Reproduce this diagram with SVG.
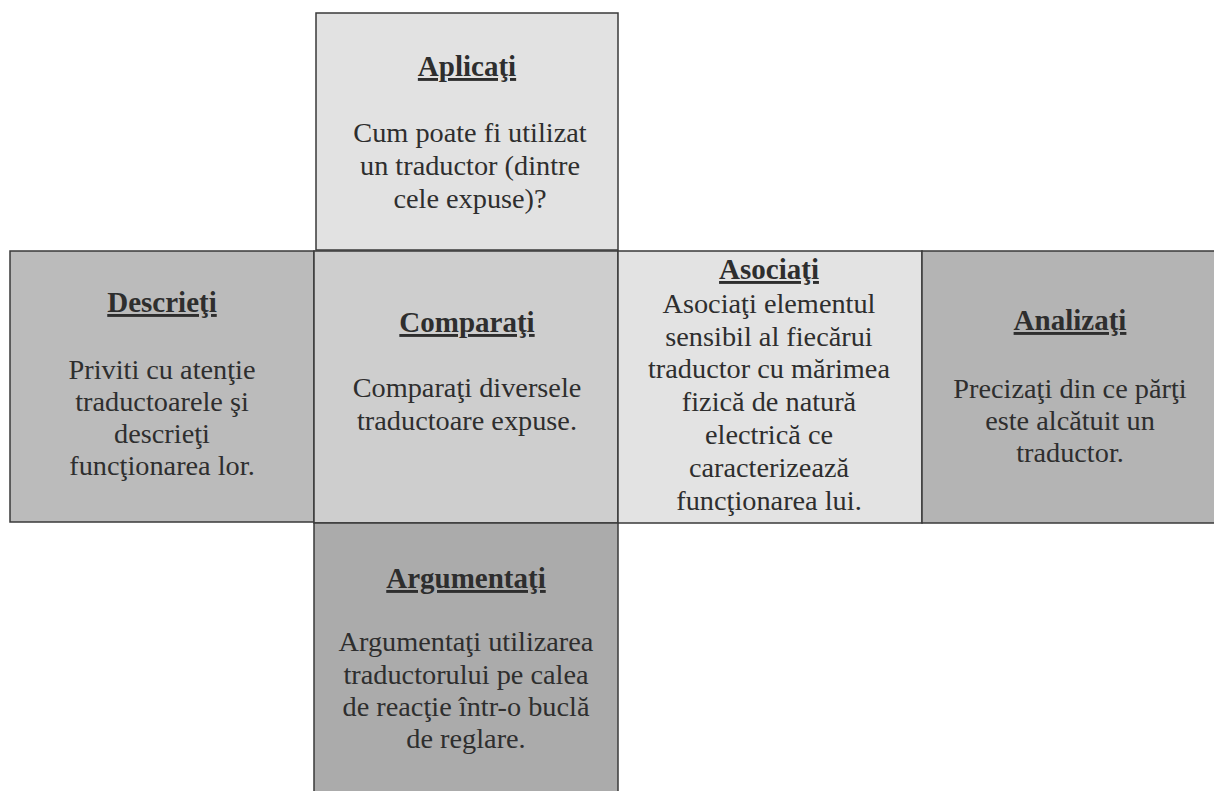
<svg xmlns="http://www.w3.org/2000/svg" width="1214" height="791" viewBox="0 0 1214 791">
<style>
.box{stroke:#3a3a3a;stroke-width:1.5}
text{font-family:"Liberation Serif","Times New Roman",serif;font-size:28.3px;fill:#2e2e2e;text-anchor:middle}
.t{font-size:29px;font-weight:bold;text-decoration:underline}
</style>
<rect width="1214" height="791" fill="#ffffff"/>
<g id="aplicati">
<rect class="box" x="316" y="13" width="302" height="237" fill="#e2e2e2"/>
<text class="t" x="467" y="76">Aplicaţi</text>
<text x="470" y="142">Cum poate fi utilizat</text>
<text x="470" y="175">un traductor (dintre</text>
<text x="470" y="208">cele expuse)?</text>
</g>
<g id="descrieti">
<rect class="box" x="10" y="251" width="304" height="271" fill="#bbbbbb"/>
<text class="t" x="162" y="312">Descrieţi</text>
<text x="162" y="379">Priviti cu atenţie</text>
<text x="162" y="411">traductoarele şi</text>
<text x="162" y="443">descrieţi</text>
<text x="162" y="475">funcţionarea lor.</text>
</g>
<g id="comparati">
<rect class="box" x="314" y="251" width="304" height="272" fill="#cecece"/>
<text class="t" x="467" y="332">Comparaţi</text>
<text x="467" y="397">Comparaţi diversele</text>
<text x="467" y="430">traductoare expuse.</text>
</g>
<g id="asociati">
<rect class="box" x="618" y="251" width="304" height="272" fill="#e3e3e3"/>
<text class="t" x="769" y="279">Asociaţi</text>
<text x="769" y="313">Asociaţi elementul</text>
<text x="769" y="346">sensibil al fiecărui</text>
<text x="769" y="378">traductor cu mărimea</text>
<text x="769" y="411">fizică de natură</text>
<text x="769" y="444">electrică ce</text>
<text x="769" y="477">caracterizează</text>
<text x="769" y="510">funcţionarea lui.</text>
</g>
<g id="analizati">
<rect class="box" x="922" y="251" width="300" height="272" fill="#b4b4b4"/>
<text class="t" x="1070" y="330">Analizaţi</text>
<text x="1070" y="398">Precizaţi din ce părţi</text>
<text x="1070" y="430">este alcătuit un</text>
<text x="1070" y="462">traductor.</text>
</g>
<g id="argumentati">
<rect class="box" x="314" y="523" width="304" height="280" fill="#ababab"/>
<text class="t" x="466" y="588">Argumentaţi</text>
<text x="466" y="651">Argumentaţi utilizarea</text>
<text x="466" y="684">traductorului pe calea</text>
<text x="466" y="716">de reacţie într-o buclă</text>
<text x="466" y="748">de reglare.</text>
</g>
</svg>
